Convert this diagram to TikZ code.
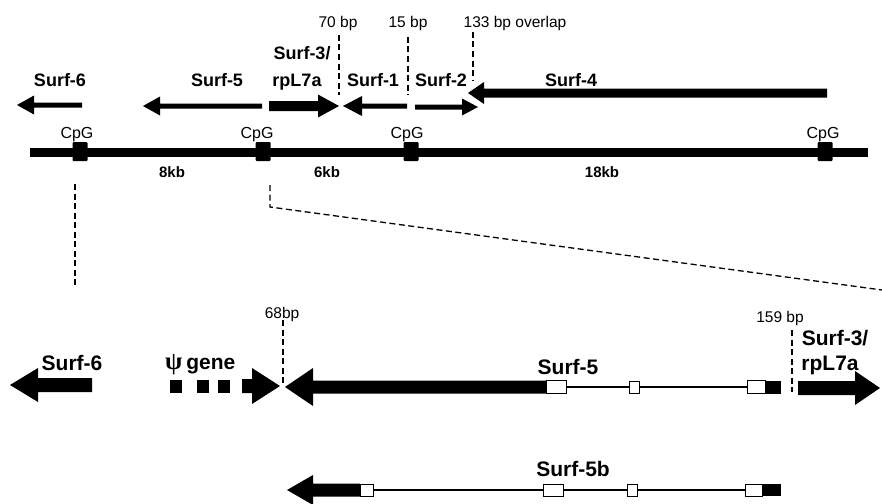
\documentclass[tikz,border=0pt]{standalone}
\usepackage{fontspec}
\setmainfont{Liberation Sans}
\newfontfamily\psifont{Liberation Serif}
% filled gene arrow: tail x, head-back x, tip x, y, shaft half-width, head half-height
\newcommand\genearrow[6]{%
  \fill ({#1},{#4-#5}) -- ({#2},{#4-#5}) -- ({#2},{#4-#6}) -- ({#3},{#4})
        -- ({#2},{#4+#6}) -- ({#2},{#4+#5}) -- ({#1},{#4+#5}) -- cycle;}
\begin{document}
\begin{tikzpicture}[x=1pt,y=-1pt,
  toplab/.style={font=\bfseries\fontsize{18}{20}\selectfont,inner sep=0pt,text height=13pt,text depth=0pt},
  botlab/.style={font=\bfseries\fontsize{21}{23}\selectfont,inner sep=0pt,text height=15pt,text depth=0pt},
  bplab/.style={font=\fontsize{15.5}{17}\selectfont,inner sep=0pt,text height=11pt,text depth=0pt},
  kblab/.style={font=\bfseries\fontsize{15}{17}\selectfont,inner sep=0pt,text height=11pt,text depth=0pt},
  cpglab/.style={font=\fontsize{16}{18}\selectfont,inner sep=0pt,text height=11.5pt,text depth=0pt},
  cpgbox/.style={fill=black,rounded corners=1pt},
  guide/.style={dash pattern=on 6pt off 3.5pt,line width=1.3pt},
  exon/.style={draw=black,fill=white,line width=1pt},
  intron/.style={line width=1.5pt}]
\useasboundingbox (0,0) rectangle (882,503);

% ---------------- chromosome overview ----------------
\fill (30,147.5) rectangle (868,156.5);
\foreach \n/\x in {c1/80,c2/263,c3/411,c4/825}{
  \coordinate (\n) at (\x,152);
  \fill[cpgbox] (\x-7.5,142) rectangle (\x+7.5,161);
}
\node[cpglab] (cpg1) at (77,133) {CpG};
\node[cpglab] (cpg2) at (257,133) {CpG};
\node[cpglab] (cpg3) at (407,133) {CpG};
\node[cpglab] (cpg4) at (823,133) {CpG};
\node[kblab] (kb8) at (172,172) {8kb};
\node[kblab] (kb6) at (327,172) {6kb};
\node[kblab] (kb18) at (602,172) {18kb};

% transcripts above the chromosome
\genearrow{82}{34}{17}{105}{2.5}{9.5}
\genearrow{262}{160}{143}{106}{2.5}{9.5}
\genearrow{269}{318}{339}{106}{5}{11.5}
\genearrow{407}{362}{343}{106}{2.5}{10}
\genearrow{415}{462}{478}{107}{2.5}{8.5}
\genearrow{827}{484}{468}{93}{4.5}{11}

\node[toplab] (s6) at (60,80) {Surf-6};
\node[toplab] (s5) at (217,80) {Surf-5};
\node[toplab] (s3a) at (302,53) {Surf-3/};
\node[toplab] (s3b) at (297,80) {rpL7a};
\node[toplab] (s1) at (373,80) {Surf-1};
\node[toplab] (s2) at (441,80) {Surf-2};
\node[toplab] (s4) at (571,80) {Surf-4};

\node[bplab] (bp70) at (338,22) {70 bp};
\node[bplab] (bp15) at (408,22) {15 bp};
\node[bplab] (bp133) at (515,22) {133 bp overlap};
\draw[guide] (339,35) -- (339,95);
\draw[guide] (408,37) -- (408,95);
\draw[guide] (473,32) -- (473,80);

% zoom guides
\coordinate (g1) at (75,184);
\coordinate (g1e) at (75,287);
\coordinate (g2) at (270,185);
\coordinate (g2k) at (270,207);
\coordinate (g2e) at (882,290);
\draw[guide] (g1) -- (g1e);
\draw[guide] (g2) -- (g2k) -- (g2e);

% ---------------- expanded region ----------------
\genearrow{92}{38}{10}{385}{7}{17}
\node[botlab] (bs6) at (72,363) {Surf-6};

\foreach \x in {170,197,218}{ \fill (\x,380) rectangle (\x+12,393); }
\genearrow{242}{252}{280}{386}{7}{18}
\node[botlab,anchor=west] (psi) at (165,362) {{\psifont\bfseries\fontsize{25}{27}\selectfont ψ}\hspace{4pt}gene};

\node[bplab] (bp68) at (282,313) {68bp};
\draw[guide] (283,320) -- (283,384);

% Surf-5 gene model
\genearrow{546}{313}{285}{387}{6.5}{19}
\draw[intron] (566,387) -- (747,387);
\draw[exon] (546,380.5) rectangle (566,393.5);
\draw[exon] (629,381) rectangle (639,393);
\draw[exon] (747,380.5) rectangle (765,393.5);
\fill (765,380.5) rectangle (781,393.5);
\node[botlab] (bs5) at (568,367) {Surf-5};

\node[bplab] (bp159) at (780,317) {159 bp};
\draw[guide] (792,330) -- (792,392);
\genearrow{798}{855}{880}{388}{7}{17}
\node[botlab] (bs3a) at (835,338) {Surf-3/};
\node[botlab] (bs3b) at (830,363) {rpL7a};

% Surf-5b gene model
\genearrow{360}{313}{287}{490}{6.5}{15}
\draw[intron] (373,490) -- (745,490);
\draw[exon] (360,484) rectangle (373,496);
\draw[exon] (543,484) rectangle (563,496);
\draw[exon] (627,484) rectangle (637,496);
\draw[exon] (745,484) rectangle (762,496);
\fill (762,484) rectangle (781,496);
\node[botlab] (bs5b) at (573,469) {Surf-5b};
\end{tikzpicture}
\end{document}
